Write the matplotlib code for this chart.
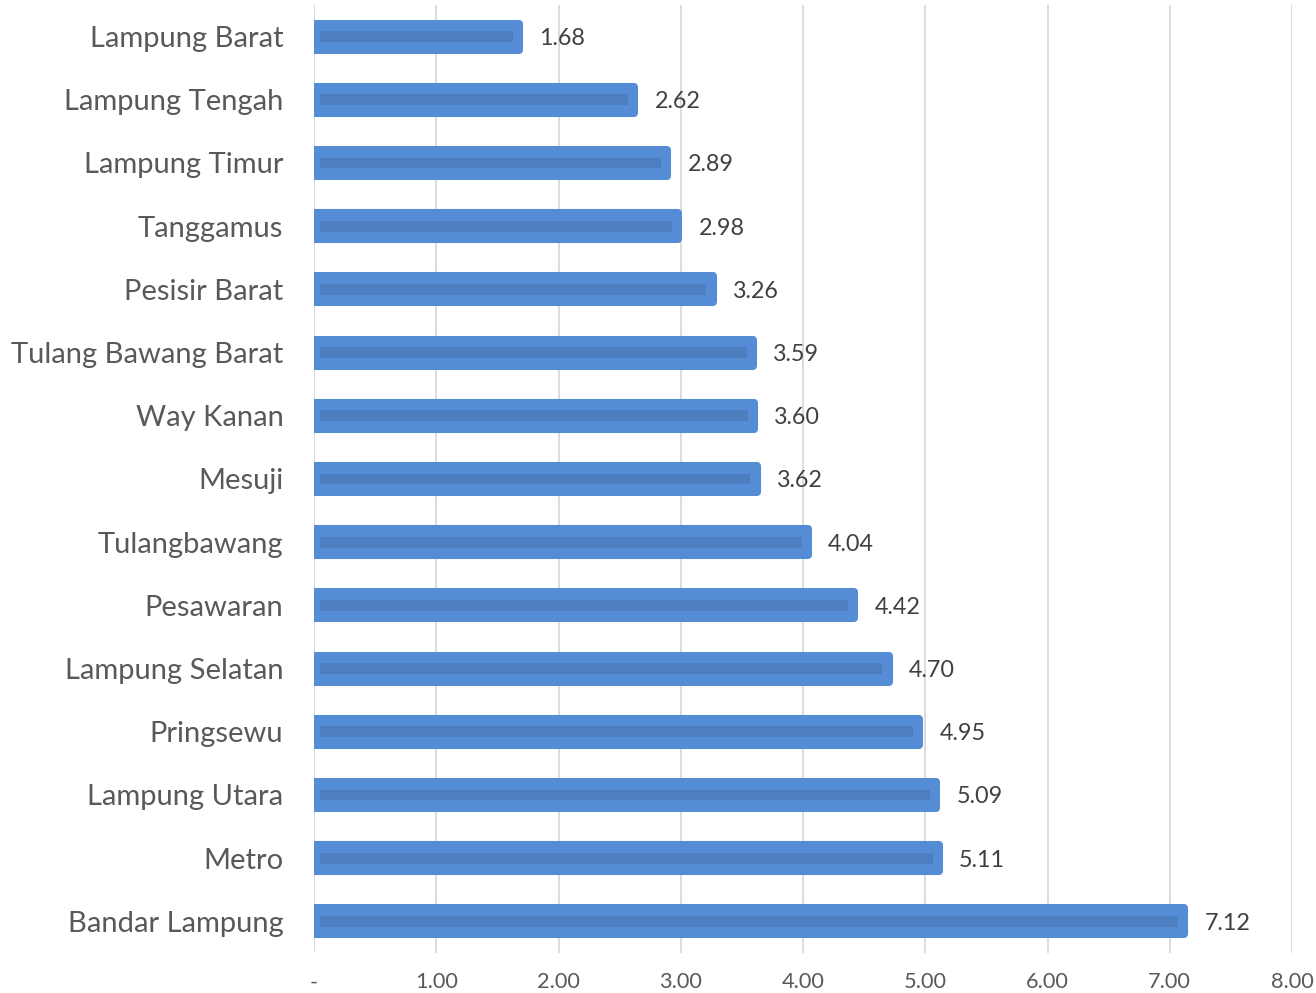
import matplotlib.pyplot as plt
import numpy as np

# data (top to bottom as in the chart)
regions = ["Lampung Barat", "Lampung Tengah", "Lampung Timur", "Tanggamus",
           "Pesisir Barat", "Tulang Bawang Barat", "Way Kanan", "Mesuji",
           "Tulangbawang", "Pesawaran", "Lampung Selatan", "Pringsewu",
           "Lampung Utara", "Metro", "Bandar Lampung"]
values = [1.68, 2.62, 2.89, 2.98, 3.26, 3.59, 3.60, 3.62,
          4.04, 4.42, 4.70, 4.95, 5.09, 5.11, 7.12]
xticks = [0, 1, 2, 3, 4, 5, 6, 7, 8]
xtick_labels = ["-", "1.00", "2.00", "3.00", "4.00", "5.00", "6.00", "7.00", "8.00"]

plt.rcParams['font.family'] = ['Lato', 'DejaVu Sans']

fig = plt.figure(figsize=(13.16, 9.93), dpi=100)
ax = fig.add_axes([0.2386, 0.0403, 0.7432, 0.9547])

ypos = np.arange(len(regions))[::-1]

# main bars (rounded ends via thick round-joined edge)
ax.barh(ypos, values, height=0.41, color="#548DD6", edgecolor="#548DD6",
        linewidth=5.8, joinstyle="round", zorder=3)
# darker inner stripe
ax.barh(ypos, np.array(values) - 0.1, left=0.05, height=0.17,
        color="#4D7EBF", zorder=4)

for y, v in zip(ypos, values):
    ax.text(v + 0.165, y - 0.03, f"{v:.2f}", va="center", ha="left",
            fontsize=16.8, color="#404040")

ax.set_xlim(0, 8)
ax.set_ylim(-0.5, len(regions) - 0.5)
ax.set_yticks(ypos)
ax.set_yticklabels(regions, fontsize=21, color="#595959")
ax.set_xticks(xticks)
ax.set_xticklabels(xtick_labels, fontsize=15.7, color="#595959")
ax.tick_params(axis="y", length=0, pad=22)
ax.tick_params(axis="x", length=0, pad=14)

ax.grid(axis="x", color="#D9D9D9", linewidth=1.3, zorder=0)
for s in ax.spines.values():
    s.set_visible(False)

fig.savefig("out.png", dpi=100)
